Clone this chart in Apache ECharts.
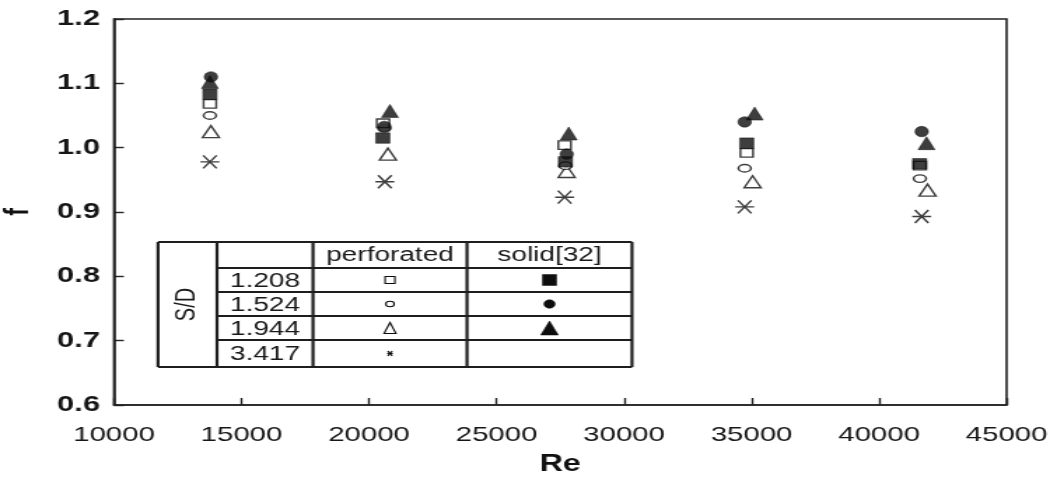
<!DOCTYPE html>
<html>
<head>
<meta charset="utf-8">
<script src="https://cdn.jsdelivr.net/npm/echarts@6/dist/echarts.min.js"></script>
<style>
  html, body { margin: 0; padding: 0; background: #fff; overflow: hidden; }
  #stage { width: 1063px; height: 479px; overflow: hidden; position: relative; }
  #chart { position: absolute; left: 0; top: 0; height: 479px; transform-origin: 0 0; }
</style>
</head>
<body>
<div id="stage"><div id="chart"></div></div>
<script>
// Friction factor f versus Reynolds number Re, perforated vs solid fins

// axis ticks
const reTicks = [10000, 15000, 20000, 25000, 30000, 35000, 40000, 45000];
const fTicks = [0.6, 0.7, 0.8, 0.9, 1.0, 1.1, 1.2];

// legend table
const sdLabels = ['1.208', '1.524', '1.944', '3.417'];
const groupLabels = ['perforated', 'solid[32]'];

// perforated, S/D = 1.208
const rePerf1208 = [13760, 20550, 27670, 34810, 41600];
const fPerf1208  = [1.068, 1.038, 1.004, 0.992, 0.972];
// perforated, S/D = 1.524
const rePerf1524 = [13760, 20600, 27700, 34730, 41600];
const fPerf1524  = [1.050, 1.030, 0.972, 0.968, 0.952];
// perforated, S/D = 1.944
const rePerf1944 = [13800, 20740, 27750, 35040, 41900];
const fPerf1944  = [1.025, 0.990, 0.963, 0.947, 0.934];
// perforated, S/D = 3.417
const rePerf3417 = [13760, 20620, 27670, 34730, 41670];
const fPerf3417  = [0.978, 0.947, 0.923, 0.908, 0.893];
// solid [32], S/D = 1.208
const reSolid1208 = [13760, 20540, 27700, 34810, 41590];
const fSolid1208  = [1.083, 1.015, 0.978, 1.007, 0.975];
// solid [32], S/D = 1.524
const reSolid1524 = [13800, 20600, 27750, 34730, 41670];
const fSolid1524  = [1.110, 1.033, 0.990, 1.040, 1.025];
// solid [32], S/D = 1.944
const reSolid1944 = [13760, 20820, 27830, 35120, 41860];
const fSolid1944  = [1.102, 1.057, 1.022, 1.053, 1.007];

// the figure is drawn narrow and widened horizontally
const K = 1.4;
const W = 1063, H = 479;
const IW = W / K;
const chartEl = document.getElementById('chart');
chartEl.style.width = IW + 'px';
chartEl.style.transform = 'scaleX(' + K + ')';

const INK = '#0e0e0e';
const FONT = '"Liberation Sans", Arial, Helvetica, sans-serif';
const ASTER = 'path://M0,7L14,7M2,1L12,13M2,13L12,1';

const pts = (xs, ys) => xs.map((x, i) => [x, ys[i]]);

function scatter(name, xs, ys, symbol, size, filled) {
  return {
    name, type: 'scatter', data: pts(xs, ys),
    symbol, symbolSize: size, silent: true,
    itemStyle: filled
      ? { color: INK, borderColor: INK, borderWidth: 0.6 }
      : { color: symbol === ASTER ? 'rgba(0,0,0,0)' : '#fff', borderColor: INK, borderWidth: 1.4 }
  };
}

// legend table geometry (inner coordinates)
const tx = [158, 217, 313, 467, 632].map(v => v / K);
const ty = [242, 268, 292, 316, 340, 367];
const LINE = { stroke: '#1e1e1e', lineWidth: 2.2 };
const gfx = [];
const seg = (x1, y1, x2, y2) => gfx.push({ type: 'line', shape: { x1, y1, x2, y2 }, style: LINE, silent: true });
seg(tx[0], ty[0], tx[4], ty[0]);
seg(tx[0], ty[5], tx[4], ty[5]);
[0, 1, 2, 3, 4].forEach(i => seg(tx[i], ty[0], tx[i], ty[5]));
[1, 2, 3, 4].forEach(j => seg(tx[1], ty[j], tx[4], ty[j]));

const txt = (text, x, y, extra) => gfx.push(Object.assign({
  type: 'text', x, y, silent: true,
  style: { text, fill: '#1a1a1a', font: '20px ' + FONT, align: 'center', verticalAlign: 'middle' }
}, extra || {}));
txt('S/D', (tx[0] + tx[1]) / 2, (ty[0] + ty[5]) / 2, { rotation: Math.PI / 2 });
txt(groupLabels[0], (tx[2] + tx[3]) / 2, (ty[0] + ty[1]) / 2);
txt(groupLabels[1], (tx[3] + tx[4]) / 2, (ty[0] + ty[1]) / 2);
sdLabels.forEach((s, i) => txt(s, (tx[1] + tx[2]) / 2, (ty[i + 1] + ty[i + 2]) / 2 + 1));

// legend marks
const c2 = (tx[2] + tx[3]) / 2, c3 = (tx[3] + tx[4]) / 2;
const rowC = i => (ty[i + 1] + ty[i + 2]) / 2;
const openStyle = { fill: '#fff', stroke: INK, lineWidth: 1.1 };
const fillStyle = { fill: INK, stroke: INK, lineWidth: 0.5 };
function mark(kind, filled, cx, cy, w, h) {
  const st = filled ? fillStyle : openStyle;
  if (kind === 'rect') gfx.push({ type: 'rect', shape: { x: cx - w / 2, y: cy - h / 2, width: w, height: h }, style: st, silent: true });
  if (kind === 'circle') gfx.push({ type: 'ellipse', shape: { cx, cy, rx: w / 2, ry: h / 2 }, style: st, silent: true });
  if (kind === 'triangle') gfx.push({ type: 'polygon', shape: { points: [[cx, cy - h / 2], [cx + w / 2, cy + h / 2], [cx - w / 2, cy + h / 2]] }, style: st, silent: true });
  if (kind === 'star') {
    [[-w / 2, 0, w / 2, 0], [-w / 2.6, -h / 2, w / 2.6, h / 2], [-w / 2.6, h / 2, w / 2.6, -h / 2]].forEach(d =>
      gfx.push({ type: 'line', shape: { x1: cx + d[0], y1: cy + d[1], x2: cx + d[2], y2: cy + d[3] }, style: { stroke: INK, lineWidth: 1.2 }, silent: true }));
  }
}
mark('rect', false, c2, rowC(0), 7, 7);
mark('circle', false, c2, rowC(1), 6, 5.5);
mark('triangle', false, c2, rowC(2), 8.5, 11);
mark('star', false, c2, rowC(3), 4, 5);
mark('rect', true, c3, rowC(0), 10, 11);
mark('circle', true, c3, rowC(1), 8, 8.5);
mark('triangle', true, c3, rowC(2), 12.5, 14);

const chart = echarts.init(chartEl, null, { renderer: 'canvas' });
chart.setOption({
  animation: false,
  backgroundColor: '#fff',
  textStyle: { fontFamily: FONT },
  grid: {
    left: 114 / K, right: 56 / K, top: 19, bottom: 74,
    show: true, borderColor: '#222', borderWidth: 1.6,
    outerBoundsMode: 'none'
  },
  xAxis: {
    type: 'value',
    min: reTicks[0], max: reTicks[reTicks.length - 1], interval: reTicks[1] - reTicks[0],
    name: 'Re', nameLocation: 'middle', nameGap: 48,
    nameTextStyle: { fontSize: 23, fontWeight: 'bold', color: '#111', fontFamily: FONT },
    axisLine: { show: true, lineStyle: { color: '#222', width: 1.6 } },
    axisTick: { show: true, inside: true, length: 7, lineStyle: { color: '#222', width: 1.4 } },
    axisLabel: {
      fontSize: 21, color: '#161616', margin: 20, showMinLabel: true, showMaxLabel: true, fontFamily: FONT,
      formatter: v => String(Math.round(v))
    },
    splitLine: { show: false }
  },
  yAxis: {
    type: 'value',
    min: fTicks[0], max: fTicks[fTicks.length - 1], interval: 0.1,
    name: 'f', nameLocation: 'middle', nameGap: 56, nameRotate: 90,
    nameTextStyle: { fontSize: 23, fontWeight: 'bold', color: '#111', fontFamily: FONT },
    axisLine: { show: true, lineStyle: { color: '#222', width: 1.6 } },
    axisTick: { show: true, inside: true, length: 7, lineStyle: { color: '#222', width: 1.4 } },
    axisLabel: {
      fontSize: 22, fontWeight: 'bold', color: '#161616', margin: 10, fontFamily: FONT,
      formatter: v => v.toFixed(1)
    },
    splitLine: { show: false }
  },
  graphic: gfx,
  series: [
    scatter('perforated 1.944', rePerf1944, fPerf1944, 'triangle', [12, 12], false),
    scatter('perforated 1.524', rePerf1524, fPerf1524, 'circle', [9, 7.5], false),
    scatter('perforated 1.208', rePerf1208, fPerf1208, 'rect', [9, 8.5], false),
    scatter('perforated 3.417', rePerf3417, fPerf3417, ASTER, [13.5, 13], false),
    scatter('solid 1.944', reSolid1944, fSolid1944, 'triangle', [12, 13], true),
    scatter('solid 1.208', reSolid1208, fSolid1208, 'rect', [10, 10.5], true),
    scatter('solid 1.524', reSolid1524, fSolid1524, 'circle', [9.5, 10.5], true)
  ]
});
</script>
</body>
</html>
